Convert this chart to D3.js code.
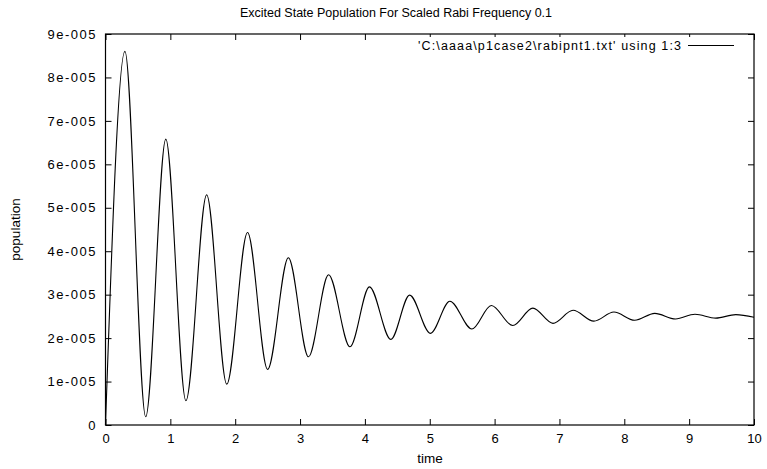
<!DOCTYPE html>
<html><head><meta charset="utf-8">
<script src="https://cdn.jsdelivr.net/npm/d3@7"></script>
<style>
html,body{margin:0;padding:0;background:#fff;}
svg{display:block;font-family:"Liberation Sans",Arial,Helvetica,sans-serif;}
</style></head>
<body><svg id="c" width="767" height="469"></svg>
<script>
// time values (x) of read points
const times = [0, 0.30, 0.62, 0.93, 1.24, 1.56, 1.87, 2.19, 2.50, 2.82, 3.13, 3.44, 3.77, 4.07, 4.40, 4.69, 5.01, 5.31, 5.65, 5.95, 6.28, 6.59, 6.90, 7.21, 7.53, 7.84, 8.16, 8.47, 8.79, 9.09, 9.41, 9.72, 10.0];
// excited state population (y) at those times
const population = [0, 8.60e-5, 0.19e-5, 6.58e-5, 0.56e-5, 5.30e-5, 0.94e-5, 4.43e-5, 1.28e-5, 3.85e-5, 1.57e-5, 3.46e-5, 1.80e-5, 3.18e-5, 1.97e-5, 2.99e-5, 2.11e-5, 2.85e-5, 2.21e-5, 2.75e-5, 2.29e-5, 2.69e-5, 2.34e-5, 2.64e-5, 2.39e-5, 2.60e-5, 2.41e-5, 2.57e-5, 2.44e-5, 2.55e-5, 2.46e-5, 2.54e-5, 2.48e-5];
const xTicks = [0,1,2,3,4,5,6,7,8,9,10];
const yTicks = [0,1e-5,2e-5,3e-5,4e-5,5e-5,6e-5,7e-5,8e-5,9e-5];
const yTickLabels = ["0","1e-005","2e-005","3e-005","4e-005","5e-005","6e-005","7e-005","8e-005","9e-005"];
const titleText = "Excited State Population For Scaled Rabi Frequency 0.1";
const legendText = "'C:\\aaaa\\p1case2\\rabipnt1.txt' using 1:3";
const xLabel = "time", yLabel = "population";

const svg = d3.select("#c");
const L = 105.5, R = 754, T = 34, B = 425;
const x = d3.scaleLinear().domain([0,10]).range([L,R]);
const y = d3.scaleLinear().domain([0,9e-5]).range([B,T]);

function styleAxis(g, showLabels){
  g.select(".domain").remove();
  g.selectAll(".tick line").attr("stroke","#000").attr("stroke-width",1);
  g.selectAll(".tick text").attr("fill","#000").attr("font-size",13).attr("font-family","Liberation Sans, Arial, sans-serif");
  if(!showLabels) g.selectAll(".tick text").remove();
}
svg.append("g").attr("transform",`translate(0,${B})`)
  .call(d3.axisBottom(x).tickValues(xTicks).tickSize(-6).tickPadding(9).tickFormat(d3.format("d")))
  .call(g=>styleAxis(g,true));
svg.append("g").attr("transform",`translate(0,${T})`)
  .call(d3.axisTop(x).tickValues(xTicks).tickSize(-6))
  .call(g=>styleAxis(g,false));
svg.append("g").attr("transform",`translate(${L},0)`)
  .call(d3.axisLeft(y).tickValues(yTicks).tickSize(-6).tickPadding(10).tickFormat((d,i)=>yTickLabels[i]))
  .call(g=>styleAxis(g,true))
  .call(g=>g.selectAll(".tick text").filter(d=>d>0).attr("textLength",48).attr("lengthAdjust","spacing"));
svg.append("g").attr("transform",`translate(${R},0)`)
  .call(d3.axisRight(y).tickValues(yTicks).tickSize(-6))
  .call(g=>styleAxis(g,false));

svg.append("rect").attr("x",L).attr("y",T).attr("width",R-L).attr("height",B-T)
  .attr("fill","none").attr("stroke","#000").attr("stroke-width",1.2);

const data = times.map((t,i)=>[t,population[i]]);
const line = d3.line().x(d=>x(d[0])).y(d=>y(d[1])).curve(d3.curveMonotoneX);
svg.append("path").datum(data).attr("d",line).attr("fill","none").attr("stroke","#000").attr("stroke-width",1.1);

// legend
svg.append("rect").attr("x",410).attr("y",37).attr("width",330).attr("height",18).attr("fill","#fff");
svg.append("text").attr("x",418).attr("y",50).attr("font-size",12.5)
  .attr("textLength",263).attr("lengthAdjust","spacing").text(legendText);
svg.append("line").attr("x1",688).attr("x2",734).attr("y1",45.5).attr("y2",45.5).attr("stroke","#000").attr("stroke-width",1);

svg.append("text").attr("x",240).attr("y",17).attr("font-size",12.5)
  .attr("textLength",312).attr("lengthAdjust","spacing").text(titleText);
svg.append("text").attr("x",430).attr("y",463).attr("text-anchor","middle").attr("font-size",13.5).text(xLabel);
svg.append("text").attr("transform",`translate(20,${(T+B)/2}) rotate(-90)`).attr("text-anchor","middle").attr("font-size",13.5).text(yLabel);
</script></body></html>
